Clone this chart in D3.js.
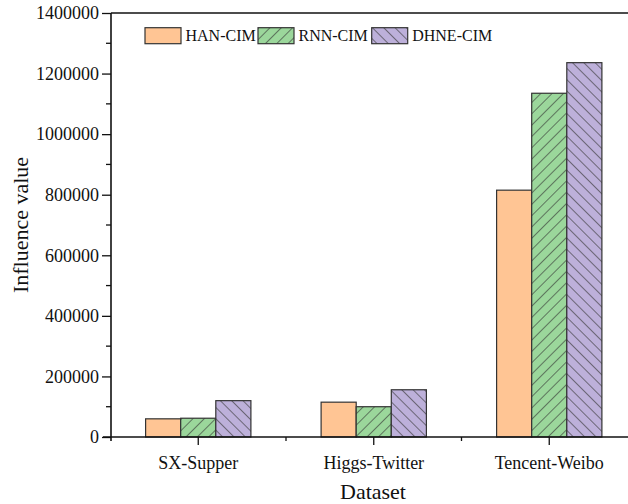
<!DOCTYPE html>
<html>
<head>
<meta charset="utf-8">
<script src="https://cdn.jsdelivr.net/npm/d3@7"></script>
<style>
  html, body { margin: 0; padding: 0; background: #fff; }
  svg { display: block; }
  text { font-family: "Liberation Serif", "Times New Roman", serif; fill: #111; }
</style>
</head>
<body>
<svg id="chart" width="628" height="504"></svg>
<script>
const categories = ["SX-Supper", "Higgs-Twitter", "Tencent-Weibo"];
const seriesNames = ["HAN-CIM", "RNN-CIM", "DHNE-CIM"];
const hanValues = [60000, 115000, 815000];
const rnnValues = [62000, 100000, 1135000];
const dhneValues = [120000, 156000, 1236000];
const yTicks = [0, 200000, 400000, 600000, 800000, 1000000, 1200000, 1400000];
const yMinorTicks = [100000, 300000, 500000, 700000, 900000, 1100000, 1300000];

(function () {
const seriesValues = [hanValues, rnnValues, dhneValues];
const fills = ["#FFC594", "#9BD79B", "#BDB0DA"];
const hatches = [null, "fwd", "back"];

const svg = d3.select("#chart");
const pLeft = 111, pRight = 637, pTop = 13, pBottom = 437;

const x = d3.scaleBand().domain(categories).range([110.5, pRight]).padding(0);
const xs = d3.scaleBand().domain(seriesNames)
  .range([x.bandwidth() * 0.2, x.bandwidth() * 0.8]).padding(0);
const y = d3.scaleLinear().domain([0, 1400000]).range([pBottom, pTop]);

// patterns
const defs = svg.append("defs");
function makePattern(id, color, angle) {
  const p = defs.append("pattern").attr("id", id)
    .attr("patternUnits", "userSpaceOnUse")
    .attr("width", 8).attr("height", 8)
    .attr("patternTransform", `rotate(${angle})`);
  p.append("rect").attr("width", 8).attr("height", 8).attr("fill", color);
  p.append("line").attr("x1", 0).attr("y1", 0).attr("x2", 0).attr("y2", 8)
    .attr("stroke", "#333").attr("stroke-width", 1.2);
}
makePattern("hatch-fwd", fills[1], 45);
makePattern("hatch-back", fills[2], -45);
function fillFor(i) {
  if (hatches[i] === "fwd") return "url(#hatch-fwd)";
  if (hatches[i] === "back") return "url(#hatch-back)";
  return fills[i];
}

// bars
const data = [];
categories.forEach((c, ci) => seriesNames.forEach((s, si) =>
  data.push({ c, s, si, v: seriesValues[si][ci] })));
svg.append("g").selectAll("rect").data(data).join("rect")
  .attr("x", d => x(d.c) + xs(d.s))
  .attr("y", d => y(d.v))
  .attr("width", xs.bandwidth())
  .attr("height", d => y(0) - y(d.v))
  .attr("fill", d => fillFor(d.si))
  .attr("stroke", "#333").attr("stroke-width", 1.2);

// y axis
const yAxis = svg.append("g").attr("transform", `translate(${pLeft},0)`)
  .call(d3.axisLeft(y).tickValues(yTicks).tickFormat(d3.format("d")).tickSize(9).tickPadding(3));
yAxis.select(".domain").remove();
yAxis.selectAll("line").attr("stroke", "#111").attr("stroke-width", 1.3);
yAxis.selectAll("text").attr("font-size", 18).style("font-family", "Liberation Serif");
svg.append("g").selectAll("line").data(yMinorTicks).join("line")
  .attr("x1", pLeft - 5).attr("x2", pLeft)
  .attr("y1", d => y(d)).attr("y2", d => y(d))
  .attr("stroke", "#111").attr("stroke-width", 1.3);
svg.append("line").attr("x1", pLeft).attr("x2", pLeft).attr("y1", pTop).attr("y2", 441)
  .attr("stroke", "#111").attr("stroke-width", 1.6);

// x axis
svg.append("line").attr("x1", 103).attr("x2", 628).attr("y1", pBottom).attr("y2", pBottom)
  .attr("stroke", "#111").attr("stroke-width", 1.6);
const xAxis = svg.append("g").attr("transform", `translate(0,${pBottom})`)
  .call(d3.axisBottom(x).tickSize(8).tickPadding(11));
xAxis.select(".domain").remove();
xAxis.selectAll("line").attr("stroke", "#111").attr("stroke-width", 1.3);
xAxis.selectAll("text").attr("font-size", 18).style("font-family", "Liberation Serif");
svg.append("g").selectAll("line").data(categories.slice(1)).join("line")
  .attr("x1", d => x(d)).attr("x2", d => x(d))
  .attr("y1", pBottom).attr("y2", pBottom + 4)
  .attr("stroke", "#111").attr("stroke-width", 1.3);

// top frame
svg.append("line").attr("x1", pLeft).attr("x2", 628).attr("y1", pTop).attr("y2", pTop)
  .attr("stroke", "#111").attr("stroke-width", 1.6);

// titles
svg.append("text").attr("x", (pLeft + pRight) / 2 - 1).attr("y", 499)
  .attr("text-anchor", "middle").attr("font-size", 22).text("Dataset");
svg.append("text").attr("transform", `translate(28,${(pTop + pBottom) / 2}) rotate(-90)`)
  .attr("text-anchor", "middle").attr("font-size", 22).text("Influence value");

// legend
const legX = [145, 258, 371.7];
const leg = svg.append("g").selectAll("g").data(seriesNames).join("g")
  .attr("transform", (d, i) => `translate(${legX[i]},27.7)`);
leg.append("rect").attr("width", 36).attr("height", 16)
  .attr("fill", (d, i) => fillFor(i)).attr("stroke", "#333").attr("stroke-width", 1.2);
leg.append("text").attr("x", 40.5).attr("y", 13.5).attr("font-size", 16).text(d => d);
})();
</script>
</body>
</html>
